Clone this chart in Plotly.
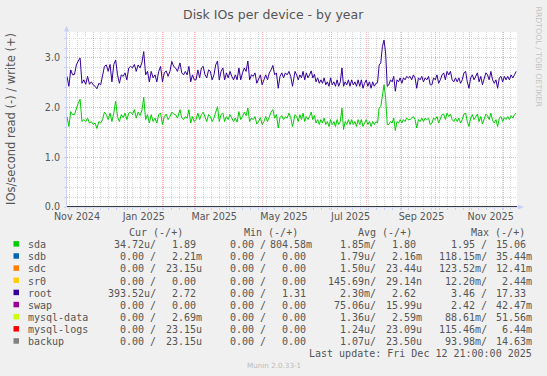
import pandas as pd
import plotly.graph_objects as go

# ---------------- data ----------------
range_start = "2024-11-07 21:00"
range_end = "2025-12-12 21:00"

# sample segments (start, end) of the daily consolidated readings
seg_start = ["2024-11-07 21:00", "2025-02-16 07:30", "2025-05-29 13:00", "2025-09-08 18:20"]
seg_end = ["2025-02-15 16:40", "2025-05-28 22:00", "2025-09-07 06:00", "2025-12-12 03:00"]

root_a = [2.63, 2.43, 2.76, 2.66, 2.67, 2.86, 2.94, 3.00, 2.49, 2.56,
          2.47, 2.63, 2.47, 2.52, 2.46, 2.43, 2.38, 2.49, 2.46, 2.63,
          2.83, 2.86, 2.73, 2.87, 2.52, 2.87, 2.96, 2.66, 2.49, 2.66,
          2.63, 2.70, 2.56, 2.80, 2.83, 2.80, 2.87, 2.73, 2.86, 2.80,
          2.90, 3.13, 2.66, 2.73, 2.52, 2.73, 2.60, 2.66, 2.52, 2.73,
          2.83, 2.52, 2.70, 2.74, 2.63, 2.73, 2.93, 2.83, 2.80, 2.73,
          2.83]
root_b = [2.90, 2.70, 2.66, 2.73, 2.66, 2.83, 2.52, 2.66, 2.56, 2.56,
          2.76, 2.60, 2.80, 2.83, 2.66, 2.60, 2.76, 2.73, 2.56, 2.66,
          2.86, 2.94, 2.56, 2.73, 2.80, 2.56, 2.70, 2.60, 2.73, 2.63,
          2.56, 2.66, 2.56, 2.80, 2.56, 2.70, 2.80, 2.73, 2.94, 2.56,
          2.66, 2.63, 2.70, 2.49, 2.56, 2.66, 2.46, 2.56, 2.66, 2.56,
          2.70, 2.76, 2.85, 2.66, 2.70, 2.39, 2.63, 2.70, 2.60, 2.70,
          2.66, 2.73, 2.63, 2.43, 2.63]
root_c = [2.73, 2.66, 2.56, 2.66, 2.60, 2.73, 2.56, 2.70, 2.60, 2.66,
          2.74, 2.60, 2.67, 2.52, 2.60, 2.49, 2.56, 2.49, 2.60, 2.46,
          2.52, 2.43, 2.60, 2.46, 2.52, 2.43, 2.56, 2.43, 2.52,
          2.80, 2.43, 2.52, 2.46, 2.56, 2.43, 2.56, 2.46, 2.52, 2.43,
          2.56, 2.43, 2.56, 2.39, 2.49, 2.56, 2.43, 2.52, 2.39, 2.52,
          2.43, 2.49, 2.50, 2.86, 2.90,
          3.23, 3.36, 3.10,
          2.43, 2.46, 2.56, 2.52, 2.63, 2.33, 2.56, 2.52, 2.60, 2.49,
          2.60, 2.56, 2.63, 2.60]
root_d = [2.63, 2.56, 2.66, 2.60, 2.39, 2.60, 2.56, 2.63, 2.52, 2.60,
          2.56, 2.63, 2.46, 2.46, 2.60, 2.56, 2.66, 2.49, 2.56, 2.66,
          2.70, 2.56, 2.73, 2.66, 2.73, 2.56, 2.52, 2.60, 2.52, 2.60,
          2.49, 2.56, 2.70, 2.73, 2.52, 2.39, 2.60, 2.66, 2.56, 2.63,
          2.70, 2.52, 2.63, 2.46, 2.60, 2.70, 2.66, 2.56, 2.73, 2.56,
          2.49, 2.56, 2.39, 2.60, 2.63, 2.52, 2.63, 2.56, 2.63, 2.56,
          2.66, 2.60, 2.66, 2.73]

sda_a = [1.82, 1.62, 1.92, 1.86, 1.86, 1.99, 2.09, 2.17, 1.72, 1.76,
         1.72, 1.79, 1.69, 1.72, 1.66, 1.69, 1.58, 1.72, 1.69, 1.76,
         1.91, 1.86, 1.76, 1.89, 1.72, 1.89, 2.13, 1.82, 1.72, 1.86,
         1.80, 1.89, 1.76, 1.89, 1.91, 1.86, 1.96, 1.79, 1.91, 1.84,
         1.94, 2.21, 1.76, 1.86, 1.69, 1.86, 1.72, 1.79, 1.69, 1.86,
         1.89, 1.66, 1.82, 1.87, 1.76, 1.82, 1.91, 1.87, 1.86, 1.79,
         1.92]
sda_b = [1.96, 1.79, 1.76, 1.82, 1.79, 1.96, 1.69, 1.82, 1.72, 1.76,
         1.89, 1.76, 1.86, 1.91, 1.79, 1.72, 1.86, 1.82, 1.72, 1.79,
         1.91, 2.02, 1.72, 1.86, 1.89, 1.72, 1.82, 1.76, 1.86, 1.79,
         1.72, 1.79, 1.71, 1.92, 1.76, 1.82, 1.91, 1.84, 1.99, 1.72,
         1.79, 1.76, 1.82, 1.67, 1.72, 1.80, 1.66, 1.72, 1.82, 1.72,
         1.84, 1.91, 1.96, 1.79, 1.86, 1.59, 1.80, 1.84, 1.76, 1.82,
         1.79, 1.89, 1.80, 1.62, 1.79]
sda_c = [1.86, 1.82, 1.72, 1.86, 1.76, 1.89, 1.72, 1.82, 1.76, 1.82,
         1.91, 1.76, 1.84, 1.69, 1.76, 1.66, 1.76, 1.69, 1.79, 1.66,
         1.72, 1.62, 1.76, 1.66, 1.72, 1.62, 1.76, 1.66, 1.72,
         1.99, 1.56, 1.72, 1.66, 1.76, 1.66, 1.76, 1.66, 1.72, 1.62,
         1.76, 1.66, 1.76, 1.62, 1.69, 1.76, 1.66, 1.72, 1.62, 1.72,
         1.66, 1.72, 1.69, 2.00, 2.02,
         2.26, 2.46, 2.20,
         1.66, 1.66, 1.72, 1.69, 1.79, 1.54, 1.72, 1.69, 1.76, 1.69,
         1.76, 1.72, 1.79, 1.76]
sda_d = [1.76, 1.79, 1.82, 1.76, 1.59, 1.76, 1.72, 1.79, 1.72, 1.79,
         1.76, 1.79, 1.66, 1.69, 1.79, 1.76, 1.82, 1.69, 1.76, 1.86,
         1.87, 1.76, 1.89, 1.82, 1.87, 1.76, 1.72, 1.79, 1.72, 1.79,
         1.69, 1.76, 1.87, 1.89, 1.72, 1.62, 1.79, 1.86, 1.76, 1.82,
         1.87, 1.72, 1.82, 1.67, 1.79, 1.87, 1.84, 1.76, 1.89, 1.74,
         1.69, 1.76, 1.62, 1.79, 1.82, 1.72, 1.80, 1.76, 1.82, 1.76,
         1.84, 1.79, 1.86, 1.89]

x_tick_dates = ["2024-11-16 18:00", "2025-01-15 03:00", "2025-03-18 17:00",
                "2025-05-19 18:00", "2025-07-17 23:00", "2025-09-18 23:00",
                "2025-11-19 12:00"]
x_tick_text = ["Nov 2024", "Jan 2025", "Mar 2025", "May 2025", "Jul 2025",
               "Sep 2025", "Nov 2025"]

names = ["sda", "sdb", "sdc", "sr0", "root", "swap", "mysql-data", "mysql-logs", "backup"]
colors = ["#00CC00", "#0066B3", "#FF8000", "#FFCC00", "#330099", "#990099",
          "#CCFF00", "#FF0000", "#808080"]
cur_read = ["34.72u", "0.00", "0.00", "0.00", "393.52u", "0.00", "0.00", "0.00", "0.00"]
cur_write = ["1.89", "2.21m", "23.15u", "0.00", "2.72", "0.00", "2.69m", "23.15u", "23.15u"]
min_read = ["0.00"] * 9
min_write = ["804.58m", "0.00", "0.00", "0.00", "1.31", "0.00", "0.00", "0.00", "0.00"]
avg_read = ["1.85m", "1.79u", "1.50u", "145.69n", "2.30m", "75.06u", "1.36u", "1.24u", "1.07u"]
avg_write = ["1.80", "2.16m", "23.44u", "29.14n", "2.62", "15.99u", "2.59m", "23.09u", "23.50u"]
max_read = ["1.95", "118.15m", "123.52m", "12.20m", "3.46", "2.42", "88.61m", "115.46m", "93.98m"]
max_write = ["15.06", "35.44m", "12.41m", "2.44m", "17.33", "42.47m", "51.56m", "6.44m", "14.63m"]
headers = ["Cur (-/+)", "Min (-/+)", "Avg (-/+)", "Max (-/+)"]

# ---------------- layout helpers ----------------
W, H = 547, 376
PL, PR, PT, PB = 67, 517, 32, 207


def fx(px):
    return (px - PL) / (PR - PL)


def fy(py):
    return (PB - py) / (PB - PT)


def seg_dates(i, n):
    return pd.date_range(seg_start[i], seg_end[i], periods=n)


root_x = []
root_y = []
sda_x = []
sda_y = []
for i, (r, s) in enumerate(zip([root_a, root_b, root_c, root_d], [sda_a, sda_b, sda_c, sda_d])):
    root_x += list(seg_dates(i, len(r)))
    root_y += r
    sda_x += list(seg_dates(i, len(s)))
    sda_y += s

TXT = "#555555"
AX = "#C9D0F5"
SANS = "DejaVu Sans"
MONO = "DejaVu Sans Mono"

fig = go.Figure()
fig.add_trace(go.Scatter(x=sda_x, y=sda_y, mode="lines", line=dict(color=colors[0], width=1),
                         showlegend=False, hoverinfo="skip"))
fig.add_trace(go.Scatter(x=root_x, y=root_y, mode="lines", line=dict(color=colors[4], width=1),
                         showlegend=False, hoverinfo="skip"))
fig.add_trace(go.Scatter(x=[], y=[], xaxis="x2", showlegend=False, hoverinfo="skip"))

ann = []
# title
ann.append(dict(text="Disk IOs per device - by year", x=fx(273.5), y=fy(14), xref="paper", yref="paper",
                showarrow=False, xanchor="center", yanchor="middle",
                font=dict(family=SANS, size=12.5, color=TXT)))
# y-axis title
ann.append(dict(text="IOs/second read (-) / write (+)", x=fx(10.5), y=fy(119.5), xref="paper", yref="paper",
                showarrow=False, xanchor="center", yanchor="middle", textangle=-90,
                font=dict(family=SANS, size=11.5, color=TXT)))
# watermark
ann.append(dict(text="RRDTOOL / TOBI OETIKER", x=fx(538.5), y=fy(57), xref="paper", yref="paper",
                showarrow=False, xanchor="center", yanchor="middle", textangle=90,
                font=dict(family=SANS, size=7.8, color="#C4C4C4")))
ann.append(dict(text="Munin 2.0.33-1", x=fx(273.5), y=fy(365.5), xref="paper", yref="paper",
                showarrow=False, xanchor="center", yanchor="middle",
                font=dict(family=SANS, size=7.2, color="#BBBBBB")))

# legend table
header_right = [185, 300, 413.5, 526.5]
col_right = [158, 204, 267.7, 313.5, 378, 423.5, 489, 534]
row0, dy = 244.6, 12.14
NB = "\u00a0"
for h, xr in zip(headers, header_right):
    ann.append(dict(text=h.replace(" ", NB), x=fx(xr), y=fy(232.5), xref="paper", yref="paper",
                    showarrow=False, xanchor="right", yanchor="middle",
                    font=dict(family=MONO, size=10, color=TXT)))


def fmt(v, read):
    s = v if v[-1].isalpha() else v + NB
    return s + "/" if read else s


shapes = []
for i, name in enumerate(names):
    yy = row0 + i * dy
    shapes.append(dict(type="rect", xref="paper", yref="paper", x0=fx(13.5), x1=fx(19),
                       y0=fy(yy - 3.5), y1=fy(yy + 2), fillcolor=colors[i], line=dict(width=0)))
    ann.append(dict(text=name, x=fx(26), y=fy(yy), xref="paper", yref="paper", showarrow=False,
                    xanchor="left", yanchor="middle", font=dict(family=MONO, size=10, color=TXT)))
    cells = [fmt(cur_read[i], True), fmt(cur_write[i], False), fmt(min_read[i], True),
             fmt(min_write[i], False), fmt(avg_read[i], True), fmt(avg_write[i], False),
             fmt(max_read[i], True), fmt(max_write[i], False)]
    for c, xr in zip(cells, col_right):
        ann.append(dict(text=c, x=fx(xr), y=fy(yy), xref="paper", yref="paper", showarrow=False,
                        xanchor="right", yanchor="middle", font=dict(family=MONO, size=10, color=TXT)))

ann.append(dict(text="Last update: Fri Dec 12 21:00:00 2025".replace(" ", NB), x=fx(534), y=fy(353.5),
                xref="paper", yref="paper", showarrow=False, xanchor="right", yanchor="middle",
                font=dict(family=MONO, size=10, color=TXT)))

# axis lines & arrows (lavender) and zero line
shapes.append(dict(type="line", xref="paper", yref="paper", x0=fx(66.5), x1=fx(66.5), y0=fy(207), y1=fy(29),
                   line=dict(color=AX, width=1), layer="above"))
shapes.append(dict(type="path", xref="paper", yref="paper",
                   path=f"M {fx(64)} {fy(31.5)} L {fx(69)} {fy(31.5)} L {fx(66.5)} {fy(25.5)} Z",
                   fillcolor=AX, line=dict(width=0), layer="above"))
shapes.append(dict(type="line", xref="paper", yref="paper", x0=fx(67), x1=fx(519), y0=fy(207), y1=fy(207),
                   line=dict(color=AX, width=1), layer="above"))
shapes.append(dict(type="path", xref="paper", yref="paper",
                   path=f"M {fx(518)} {fy(204.5)} L {fx(518)} {fy(209.5)} L {fx(524)} {fy(207)} Z",
                   fillcolor=AX, line=dict(width=0), layer="above"))
shapes.append(dict(type="line", xref="paper", yref="y", x0=0, x1=1, y0=0, y1=0,
                   line=dict(color="#000000", width=1.5), layer="above"))

MAJ = "rgba(255,60,60,0.40)"
MIN = "#D6D6D6"

fig.update_layout(
    width=W, height=H,
    margin=dict(l=PL, r=W - PR, t=PT, b=H - PB, pad=0),
    paper_bgcolor="#F0F0F0", plot_bgcolor="#FFFFFF",
    showlegend=False, hovermode=False, dragmode=False,
    annotations=ann, shapes=shapes,
    xaxis=dict(type="date", range=[range_start, range_end], dtick="M1", tick0="2024-12-01",
               showticklabels=False, showgrid=True, gridcolor=MAJ, griddash="1px,1px", gridwidth=1,
               ticks="outside", ticklen=2, tickcolor=AX, showline=False, zeroline=False, fixedrange=True,
               minor=dict(dtick=7 * 86400000, tick0="2024-11-10", showgrid=True, gridcolor=MIN,
                          griddash="1px,1px", ticks="outside", ticklen=2, tickcolor=AX)),
    xaxis2=dict(type="date", overlaying="x", range=[range_start, range_end], side="bottom",
                tickmode="array", tickvals=x_tick_dates, ticktext=x_tick_text, fixedrange=True,
                showgrid=False, ticks="", showline=False, zeroline=False, ticklabelstandoff=2,
                tickfont=dict(family=SANS, size=9.6, color=TXT)),
    yaxis=dict(range=[0, 3.523], dtick=1, tick0=0, tickformat=".1f", showgrid=True, gridcolor=MAJ,
               griddash="1px,1px", zeroline=False, showline=False, ticks="outside", ticklen=2,
               tickcolor=AX, ticklabelstandoff=2, tickfont=dict(family=SANS, size=9.6, color=TXT),
               fixedrange=True,
               minor=dict(dtick=0.2, showgrid=True, gridcolor=MIN, griddash="1px,1px",
                          ticks="outside", ticklen=2, tickcolor=AX)),
)

fig.write_html("out.html", config={"displayModeBar": False, "staticPlot": True},
               post_script="document.body.style.margin='0px';document.body.style.overflow='hidden';")
